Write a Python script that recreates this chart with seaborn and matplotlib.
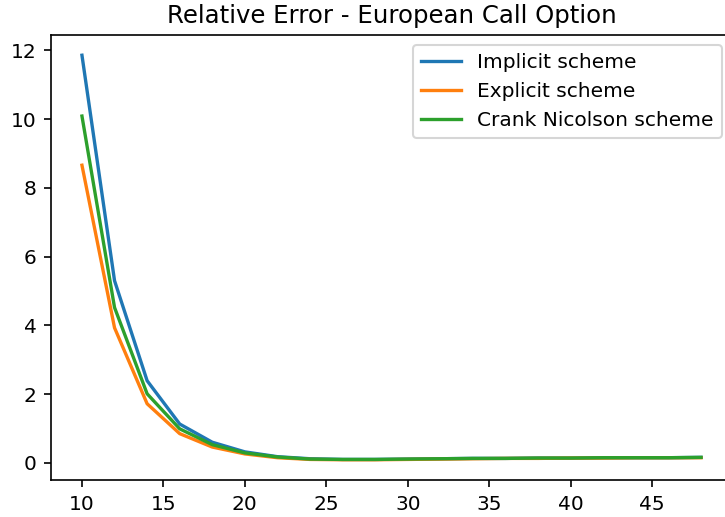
import numpy as np
import pandas as pd
import matplotlib
matplotlib.use("Agg")
import matplotlib.pyplot as plt
import seaborn as sns

# grid sizes and relative errors of each finite-difference scheme
n_steps = [10, 12, 14, 16, 18, 20, 22, 24, 26, 28, 30, 32, 34, 36, 38, 40, 42, 44, 46, 48]
implicit_err = [11.86, 5.30, 2.39, 1.13, 0.60, 0.32, 0.18, 0.12, 0.10, 0.10,
                0.11, 0.12, 0.13, 0.13, 0.14, 0.14, 0.15, 0.15, 0.15, 0.16]
explicit_err = [8.66, 3.93, 1.72, 0.85, 0.46, 0.26, 0.15, 0.10, 0.09, 0.09,
                0.10, 0.11, 0.12, 0.13, 0.13, 0.14, 0.14, 0.15, 0.15, 0.15]
cn_err = [10.09, 4.52, 2.01, 0.99, 0.53, 0.29, 0.17, 0.11, 0.10, 0.10,
          0.11, 0.12, 0.13, 0.13, 0.14, 0.14, 0.15, 0.15, 0.15, 0.16]

series = [
    ("Implicit scheme", implicit_err, "#1f77b4"),
    ("Explicit scheme", explicit_err, "#ff7f0e"),
    ("Crank Nicolson scheme", cn_err, "#2ca02c"),
]

plt.rcParams["font.size"] = 9.7
plt.rcParams["axes.titlesize"] = 11.7

fig = plt.figure(figsize=(725 / 150, 517 / 150), dpi=150)
ax = fig.add_axes([51 / 725, 37 / 517, 681 / 725, 445 / 517])

for label, values, color in series:
    df = pd.DataFrame({"N": n_steps, "err": values})
    sns.lineplot(data=df, x="N", y="err", ax=ax, color=color, label=label, linewidth=1.6)

ax.set_xlabel("")
ax.set_ylabel("")
ax.set_title("Relative Error - European Call Option")
ax.legend(loc="upper right")

fig.savefig("out.png", dpi=150)
